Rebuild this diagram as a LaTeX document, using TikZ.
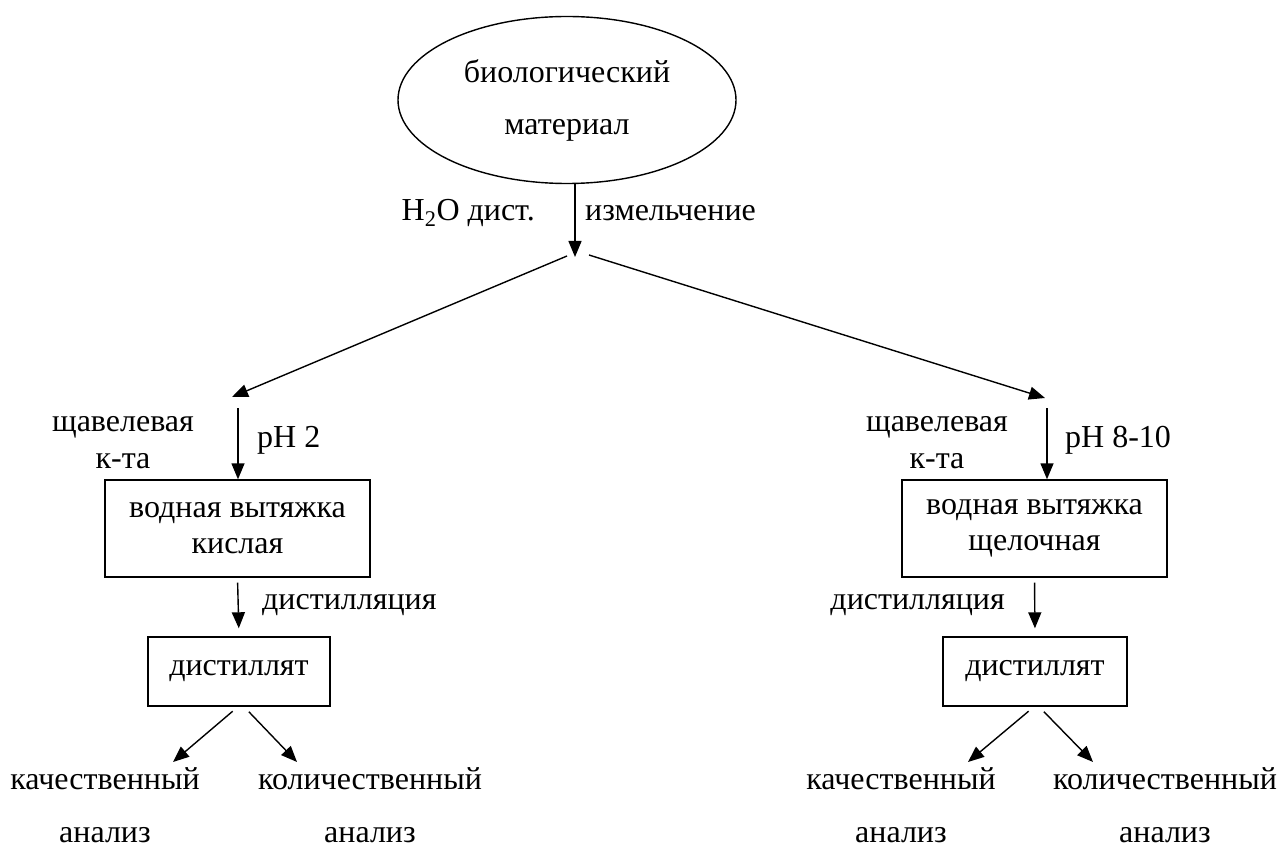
\documentclass[tikz,border=0pt]{standalone}
\usepackage{fontspec}
\setmainfont{Liberation Serif}
\newfontfamily\timesfont{Liberation Serif}
\usetikzlibrary{shapes.geometric,arrows.meta}

\begin{document}
\begin{tikzpicture}[x=1pt,y=-1pt,
    every node/.style={font=\timesfont\fontsize{32}{36}\selectfont,align=center,inner sep=0pt},
    arr/.style={-{Triangle[length=16pt,width=13pt]},line width=1.4pt},
    stepbox/.style={draw,line width=1.4pt},
    result/.style={font=\timesfont\fontsize{32}{53}\selectfont}]

      \useasboundingbox (0,0) rectangle (1280,850);

      % top part
      \node[stepbox,ellipse,minimum width=338pt,minimum height=167pt] (bio) at (567,100)
        {биологический\\[16pt]материал};
      \coordinate (fork)  at (575,257);
      \coordinate (forkL) at (567,256);
      \coordinate (forkR) at (589,255);
      \node[anchor=east] (water) at (535,213) {H\textsubscript{2}O дист.};
      \node[anchor=west] (grind) at (585,213) {измельчение};

      % acid branch
      \coordinate (acidIn)  at (232,397);
      \coordinate (acidTop) at (238,408);
      \node[stepbox,minimum width=265pt,minimum height=97pt] (acid) at (237.5,528.5)
        {водная вытяжка\\кислая};
      \node[font=\timesfont\fontsize{32}{37}\selectfont] (oxA) at (123,443) {щавелевая\\к-та};
      \node[anchor=west] (phA) at (257,440) {pH 2};
      \node[anchor=west] (distlA) at (262,605) {дистилляция};
      \node[stepbox,minimum width=182pt,minimum height=69pt] (distA) at (239,671.5) {дистиллят};
      \coordinate (qualAin)  at (173,762);
      \coordinate (quantAin) at (297,762);
      \node[result] (qualA)  at (105,805) {качественный\\анализ};
      \node[result] (quantA) at (370,805) {количественный\\анализ};

      % alkaline branch
      \coordinate (alkIn)  at (1045,398);
      \coordinate (alkTop) at (1047,408);
      \node[stepbox,minimum width=265pt,minimum height=97pt] (alk) at (1034.5,528.5)
        {водная вытяжка\\щелочная};
      \node[font=\timesfont\fontsize{32}{37}\selectfont] (oxB) at (937,443) {щавелевая\\к-та};
      \node[anchor=west] (phB) at (1065,440) {pH 8-10};
      \node[anchor=east] (distlB) at (1005,605) {дистилляция};
      \node[stepbox,minimum width=184pt,minimum height=69pt] (distB) at (1035,671.5) {дистиллят};
      \coordinate (qualBin)  at (968,762);
      \coordinate (quantBin) at (1093,762);
      \node[result] (qualB)  at (901,805) {качественный\\анализ};
      \node[result] (quantB) at (1165,805) {количественный\\анализ};

      % connectors
      \draw[arr] (bio.south -| fork) -- (fork);
      \draw[arr] (forkL) -- (acidIn);
      \draw[arr] (forkR) -- (alkIn);
      \draw[arr] (acidTop) -- (acidTop |- acid.north);
      \draw[arr] (alkTop) -- (alkTop |- alk.north);
      \draw[arr,shorten <=5pt,shorten >=8pt] (acid.south) -- (distA.north);
      \draw[arr,shorten <=5pt,shorten >=8pt] (alk.south) -- (distB.north);
      \draw[arr,shorten <=7pt] ([xshift=-1pt]distA.south) -- (qualAin);
      \draw[arr,shorten <=7pt] ([xshift=5pt]distA.south) -- (quantAin);
      \draw[arr,shorten <=7pt] ([xshift=-1pt]distB.south) -- (qualBin);
      \draw[arr,shorten <=7pt] ([xshift=4pt]distB.south) -- (quantBin);

    \end{tikzpicture}
\end{document}
